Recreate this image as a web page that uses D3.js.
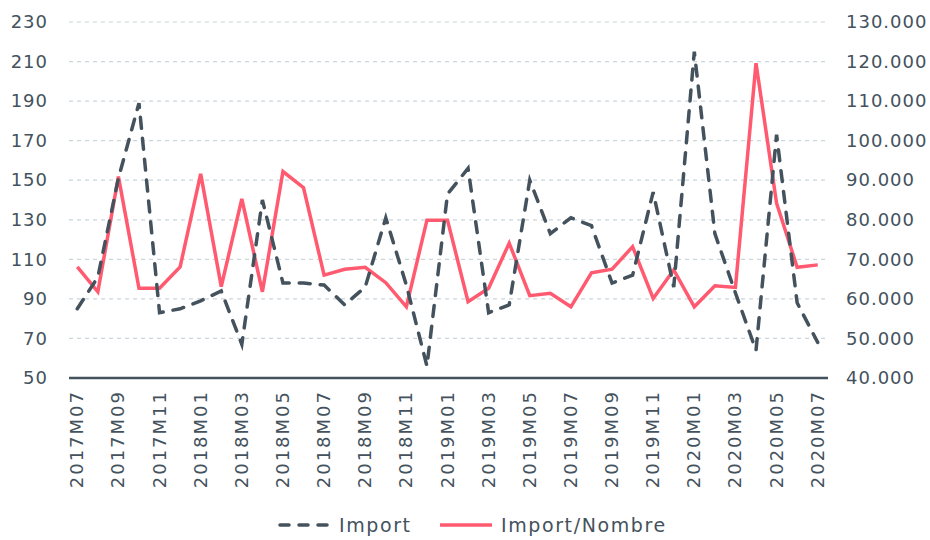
<!DOCTYPE html>
<html>
<head>
<meta charset="utf-8">
<script src="https://cdn.jsdelivr.net/npm/d3@7"></script>
<style>
  body { margin: 0; background: #fff; }
  text { font-family: "DejaVu Sans", sans-serif; fill: #44525d; }
</style>
</head>
<body>
<div id="chart"></div>
<script>
const width = 930;
const height = 540;

// months 2017M07 .. 2020M07
const months = [
  "2017M07","2017M08","2017M09","2017M10","2017M11","2017M12",
  "2018M01","2018M02","2018M03","2018M04","2018M05","2018M06",
  "2018M07","2018M08","2018M09","2018M10","2018M11","2018M12",
  "2019M01","2019M02","2019M03","2019M04","2019M05","2019M06",
  "2019M07","2019M08","2019M09","2019M10","2019M11","2019M12",
  "2020M01","2020M02","2020M03","2020M04","2020M05","2020M06",
  "2020M07"
];

// Import (left axis)
const importVals = [
  85, 101, 151, 189, 83, 85, 89, 94, 67, 140, 98, 98,
  97, 87, 96, 131, 97, 56, 143, 156, 83, 87, 150, 123,
  131, 127, 98, 102, 144, 96, 215, 123, 93, 64, 173, 88,
  68
];

// Import/Nombre (right axis)
const perCapita = [
  68100, 61800, 90900, 62700, 62700, 68100, 91600, 63100, 85300, 61800, 92200, 88100,
  66000, 67500, 68000, 64100, 58000, 79900, 79900, 59300, 62700, 74100, 60800, 61400,
  58000, 66600, 67500, 73200, 60100, 67300, 58000, 63300, 62900, 119600, 84200, 68000,
  68600
];

const leftTicks = [50, 70, 90, 110, 130, 150, 170, 190, 210, 230];
const rightTicks = [40000, 50000, 60000, 70000, 80000, 90000, 100000, 110000, 120000, 130000];

const dark = "#44525d";
const red = "#ff5a6f";

const svg = d3.select("#chart").append("svg")
  .attr("width", width)
  .attr("height", height);

const x = d3.scaleBand().domain(months).range([67, 828]);
const xc = d => x(d) + x.bandwidth() / 2;
const yL = d3.scaleLinear().domain([50, 230]).range([378, 22]);
const yR = d3.scaleLinear().domain([40000, 130000]).range([378, 22]);

// gridlines
svg.append("g")
  .selectAll("line")
  .data(leftTicks.slice(1))
  .enter().append("line")
  .attr("x1", 69).attr("x2", 828)
  .attr("y1", d => yL(d)).attr("y2", d => yL(d))
  .attr("stroke", "#cbd5dc")
  .attr("stroke-width", 1.2)
  .attr("stroke-dasharray", "4,4");

// left axis
const leftAxis = d3.axisLeft(yL).tickValues(leftTicks).tickSize(0).tickPadding(0);
svg.append("g")
  .attr("transform", "translate(48,0)")
  .call(leftAxis)
  .call(g => g.select(".domain").remove())
  .selectAll("text")
  .style("font-size", "18px")
  .style("letter-spacing", "1px")
  .attr("fill", dark);

// right axis, 40.000 style labels
const rightAxis = d3.axisRight(yR).tickValues(rightTicks).tickSize(0).tickPadding(0)
  .tickFormat(d => d3.format(",")(d).replace(/,/g, "."));
svg.append("g")
  .attr("transform", "translate(846,0)")
  .call(rightAxis)
  .call(g => g.select(".domain").remove())
  .selectAll("text")
  .style("font-size", "18px")
  .style("letter-spacing", "1px")
  .attr("fill", dark);

// bottom axis
const xAxis = d3.axisBottom(x)
  .tickValues(months.filter((d, i) => i % 2 === 0))
  .tickSize(0).tickPadding(0);
const xg = svg.append("g")
  .attr("transform", "translate(0,378)")
  .call(xAxis);
xg.select(".domain")
  .attr("d", "M69,0H828")
  .attr("stroke", dark)
  .attr("stroke-width", 2.5);
xg.selectAll("text")
  .style("font-size", "18px")
  .style("letter-spacing", "2px")
  .attr("fill", dark)
  .attr("text-anchor", "end")
  .attr("dy", null)
  .attr("y", 0)
  .attr("transform", "translate(6,12) rotate(-90)");

// lines
const lineL = d3.line().x((d, i) => xc(months[i])).y(d => yL(d));
const lineR = d3.line().x((d, i) => xc(months[i])).y(d => yR(d));

svg.append("path")
  .datum(perCapita)
  .attr("d", lineR)
  .attr("fill", "none")
  .attr("stroke", red)
  .attr("stroke-width", 3.5)
  .attr("stroke-linejoin", "miter");

svg.append("path")
  .datum(importVals)
  .attr("d", lineL)
  .attr("fill", "none")
  .attr("stroke", dark)
  .attr("stroke-width", 3.5)
  .attr("stroke-linecap", "round")
  .attr("stroke-dasharray", "11,10");

// legend
const legend = svg.append("g");
legend.append("line")
  .attr("x1", 280).attr("x2", 332).attr("y1", 525).attr("y2", 525)
  .attr("stroke", dark).attr("stroke-width", 3.5)
  .attr("stroke-linecap", "round")
  .attr("stroke-dasharray", "9,10");
legend.append("text")
  .attr("x", 339).attr("y", 532)
  .style("font-size", "19px")
  .style("letter-spacing", "1.6px")
  .text("Import");
legend.append("line")
  .attr("x1", 440).attr("x2", 492).attr("y1", 525).attr("y2", 525)
  .attr("stroke", red).attr("stroke-width", 3.5);
legend.append("text")
  .attr("x", 501).attr("y", 532)
  .style("font-size", "19px")
  .style("letter-spacing", "1.6px")
  .text("Import/Nombre");
</script>
</body>
</html>
